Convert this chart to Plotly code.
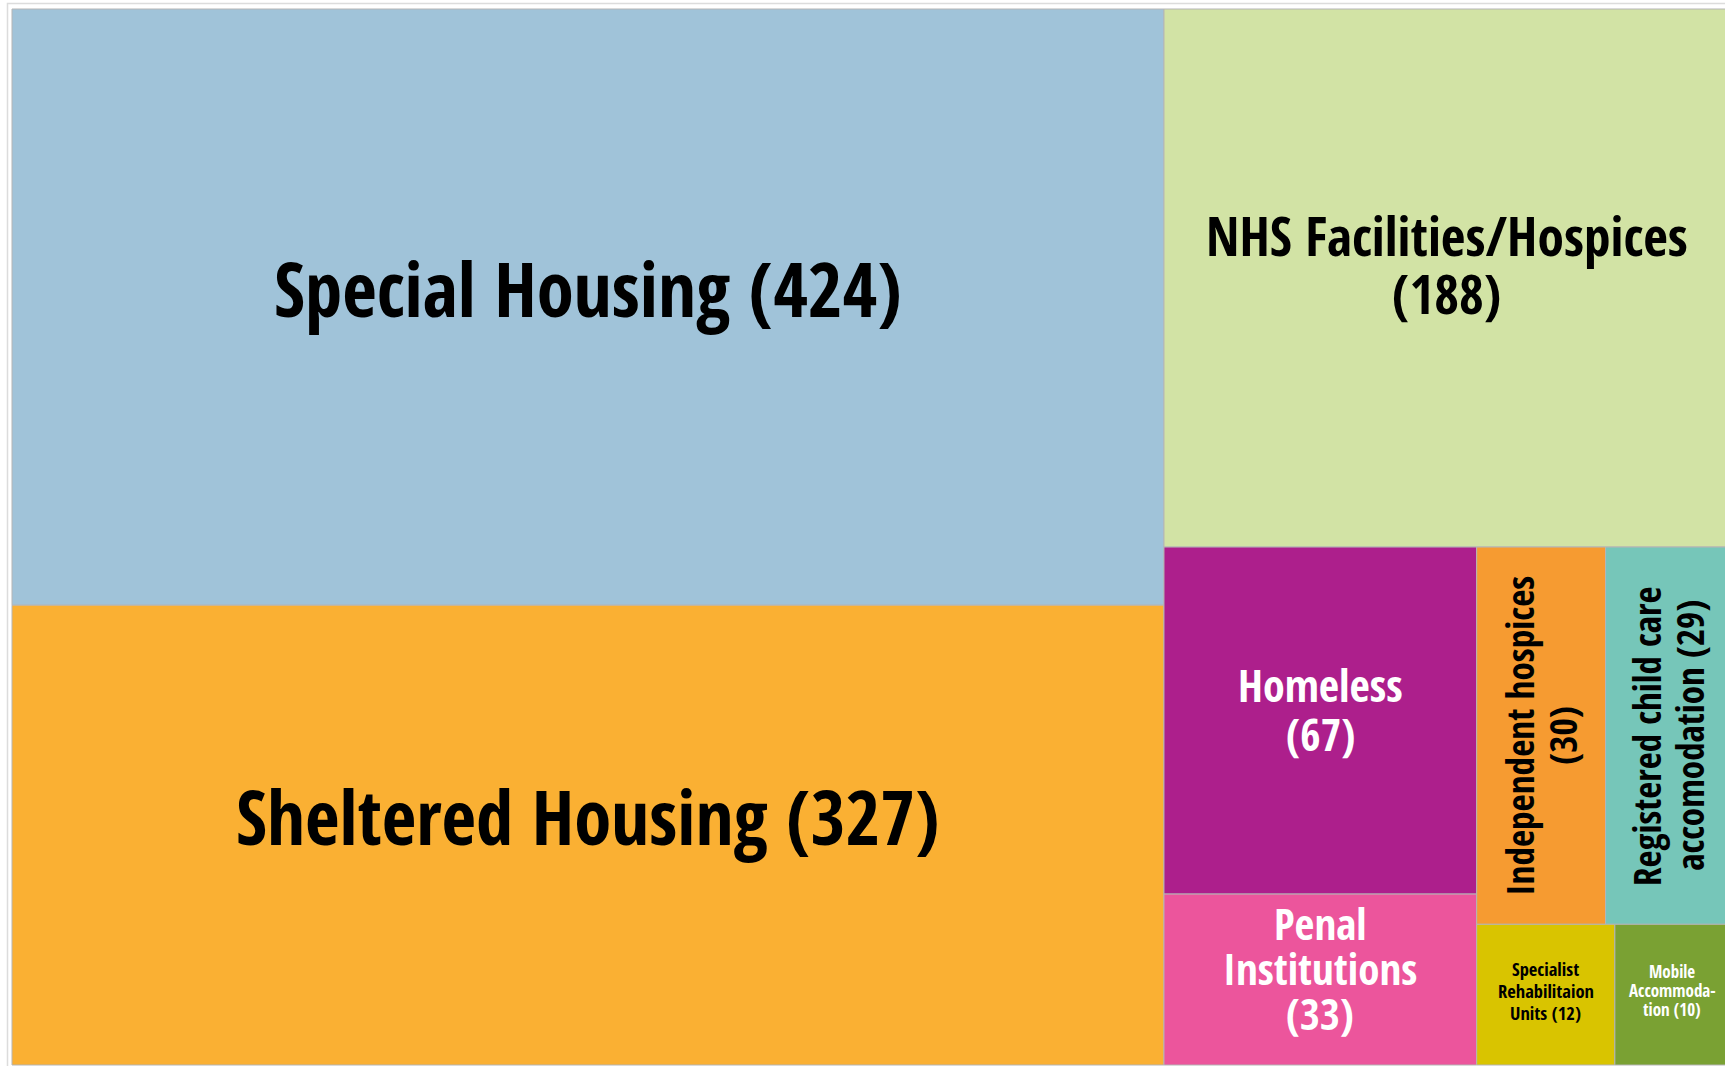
import plotly.graph_objects as go

# ---------------- data ----------------
categories = [
    "Special Housing",
    "Sheltered Housing",
    "NHS Facilities/Hospices",
    "Homeless",
    "Penal Institutions",
    "Independent hospices",
    "Registered child care accomodation",
    "Specialist Rehabilitaion Units",
    "Mobile Accommodation",
]
values = [424, 327, 188, 67, 33, 30, 29, 12, 10]
# label lines (value inserted from `values`)
label_templates = [
    ["Special Housing ({v})"],
    ["Sheltered Housing ({v})"],
    ["NHS Facilities/Hospices", "({v})"],
    ["Homeless", "({v})"],
    ["Penal", "Institutions", "({v})"],
    ["Independent hospices", "({v})"],
    ["Registered child care", "accomodation ({v})"],
    ["Specialist", "Rehabilitaion", "Units ({v})"],
    ["Mobile", "Accommoda-", "tion ({v})"],
]

# ---------------- styles ----------------
fill_colors = ["#A0C3D9", "#FAB033", "#D2E3A5", "#AD1F8C", "#EC559C",
               "#F69B31", "#76C6B9", "#D9C400", "#7AA133"]
text_colors = ["#000000", "#000000", "#000000", "#FFFFFF", "#FFFFFF",
               "#000000", "#000000", "#000000", "#FFFFFF"]
font_sizes = [75, 75, 53.5, 44, 43, 37.3, 37, 18.5, 17]
line_heights = [1.1, 1.1, 1.08, 1.12, 1.05, 1.13, 1.16, 1.19, 1.12]
text_angles = [0, 0, 0, 0, 0, -90, -90, 0, 0]
V_SHIFT_EM = -0.25   # labels sit slightly above the cell centre
FONT = "Open Sans Condensed, Roboto Condensed, sans-serif"
BORDER = "#b5b5b5"

FIG_W, FIG_H = 1725, 1066
# treemap area (pixel units of the axes)
AREA_X0, AREA_Y0, AREA_W, AREA_H = 12, 9, 1718, 1056


# ---------------- squarified layout (d3 algorithm, golden ratio) ----------------
def squarify(vals, x0, y0, x1, y1, ratio=(1 + 5 ** 0.5) / 2):
    rects = [None] * len(vals)
    n = len(vals)
    i0 = i1 = 0
    value = float(sum(vals))
    while i0 < n:
        dx, dy = x1 - x0, y1 - y0
        sumv = vals[i1]
        i1 += 1
        minv = maxv = sumv
        alpha = max(dy / dx, dx / dy) / (value * ratio)
        beta = sumv * sumv * alpha
        minr = max(maxv / beta, beta / minv)
        while i1 < n:
            nv = vals[i1]
            s2 = sumv + nv
            mn, mx = min(minv, nv), max(maxv, nv)
            beta = s2 * s2 * alpha
            nr = max(mx / beta, beta / mn)
            if nr > minr:
                break
            sumv, minv, maxv, minr = s2, mn, mx, nr
            i1 += 1
        row = list(range(i0, i1))
        if dx < dy:  # dice: strip across the top, children side by side
            ny = y0 + dy * sumv / value
            cx = x0
            for k in row:
                w = dx * vals[k] / sumv
                rects[k] = (cx, y0, cx + w, ny)
                cx += w
            y0 = ny
        else:  # slice: column at the left, children stacked
            nx = x0 + dx * sumv / value
            cy = y0
            for k in row:
                h = dy * vals[k] / sumv
                rects[k] = (x0, cy, nx, cy + h)
                cy += h
            x0 = nx
        value -= sumv
        i0 = i1
    return rects


rects = squarify(values, AREA_X0, AREA_Y0, AREA_X0 + AREA_W, AREA_Y0 + AREA_H)

fig = go.Figure()
annotations = []
for i, (cat, v) in enumerate(zip(categories, values)):
    x0, y0, x1, y1 = rects[i]
    fig.add_trace(go.Scatter(
        x=[x0, x1, x1, x0, x0], y=[y0, y0, y1, y1, y0],
        mode="lines", fill="toself", fillcolor=fill_colors[i],
        line=dict(color=BORDER, width=1),
        hoveron="fills", text=f"{cat}: {v}", hoverinfo="text",
        name=cat, showlegend=False,
    ))
    lines = [t.format(v=v) for t in label_templates[i]]
    cx, cy = (x0 + x1) / 2, (y0 + y1) / 2
    n = len(lines)
    step = font_sizes[i] * line_heights[i]
    for j, ln in enumerate(lines):
        off = (j - (n - 1) / 2) * step
        if text_angles[i] == 0:
            ax, ay = cx, cy + off + V_SHIFT_EM * font_sizes[i]
        else:
            ax, ay = cx + off, cy
        annotations.append(dict(
            x=ax, y=ay, xref="x", yref="y", text=ln, showarrow=False,
            textangle=text_angles[i], xanchor="center", yanchor="middle",
            font=dict(family=FONT, size=font_sizes[i], color=text_colors[i],
                      weight="bold"),
        ))

# light outer frame around the whole chart
shapes = [dict(type="rect", xref="paper", yref="paper",
               x0=7.5 / FIG_W, x1=1.02, y0=-0.02, y1=1 - 3.5 / FIG_H,
               line=dict(color="#dcdcdc", width=1.5), fillcolor="rgba(0,0,0,0)",
               layer="below")]

fig.update_layout(
    width=FIG_W, height=FIG_H,
    margin=dict(l=0, r=0, t=0, b=0),
    paper_bgcolor="white", plot_bgcolor="white",
    xaxis=dict(range=[0, FIG_W], visible=False, fixedrange=True),
    yaxis=dict(range=[FIG_H, 0], visible=False, fixedrange=True),
    annotations=annotations, shapes=shapes,
    showlegend=False,
)

fig.write_html("out.html", config={"displayModeBar": False},
               post_script="document.body.style.margin='0';")
